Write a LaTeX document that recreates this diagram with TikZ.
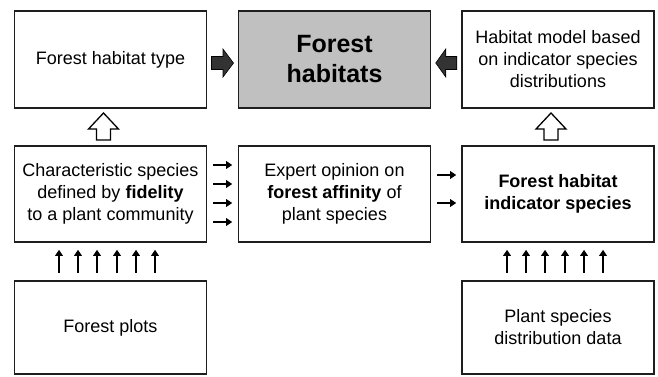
\documentclass[tikz,border=0pt]{standalone}
\usepackage{fontspec}
\setmainfont{Liberation Sans}
\usetikzlibrary{arrows.meta,calc}
\definecolor{boxline}{HTML}{1E1E1E}
\definecolor{mainfill}{HTML}{C0C0C0}
\definecolor{darkarr}{HTML}{333333}
\tikzset{
  box/.style={draw=boxline, line width=1.6pt, minimum width=192pt, align=center,
    font=\fontsize{18}{22}\selectfont, text=black, inner sep=0pt},
  mainbox/.style={box, fill=mainfill, font=\fontsize{25}{30}\selectfont\bfseries},
  smallarrow/.style={line width=1.5pt, -{Triangle[length=6pt,width=7.5pt]}, draw=black},
  darkarrow/.style={fill=darkarr, draw=black, line width=0.6pt},
  hollowarrow/.style={fill=white, draw=black, line width=1.3pt, line join=miter}
}
\begin{document}
\begin{tikzpicture}[x=1pt,y=-1pt]
\useasboundingbox (0,0) rectangle (658,376);
% row 1
\node[box, minimum height=97pt] (ftype) at (110.5,59.5) {Forest habitat type};
\node[mainbox, minimum height=97pt] (fhab) at (334.5,59.5) {Forest\\habitats};
\node[box, minimum height=97pt] (hmodel) at (558,59.5) {Habitat model based\\on indicator species\\distributions};
% row 2
\node[box, minimum height=96pt] (charsp) at (110.5,194) {Characteristic species\\defined by \textbf{fidelity}\\to a plant community};
\node[box, minimum height=96pt] (expert) at (334.5,194) {Expert opinion on\\\textbf{forest affinity} of\\plant species};
\node[box, minimum height=96pt, font=\fontsize{18}{22}\selectfont\bfseries] (indsp) at (558,194) {Forest habitat\\indicator species};
% row 3
\node[box, minimum height=93pt] (plots) at (110.5,327.5) {Forest plots};
\node[box, minimum height=93pt] (distr) at (558,327.5) {Plant species\\distribution data};

% dark block arrows
\coordinate (dl) at ($(ftype.east)!0.5!(fhab.west)+(0,3.5)$);
\draw[darkarrow, shift={(dl)}] (-11,-6.5) -- (0.5,-6.5) -- (0.5,-14) -- (11,0) -- (0.5,14) -- (0.5,6.5) -- (-11,6.5) -- cycle;
\coordinate (dr) at ($(fhab.east)!0.5!(hmodel.west)+(0,3.5)$);
\draw[darkarrow, shift={(dr)}] (10.5,-6.5) -- (-0.5,-6.5) -- (-0.5,-14) -- (-10.5,0) -- (-0.5,14) -- (-0.5,6.5) -- (10.5,6.5) -- cycle;

% hollow up arrows
\coordinate (hl) at ($(ftype.south)!0.5!(charsp.north)+(-7,0)$);
\draw[hollowarrow, shift={(hl)}] (-7,13) -- (-7,2) -- (-15,2) -- (0,-14) -- (15,2) -- (7,2) -- (7,13) -- cycle;
\coordinate (hr) at ($(hmodel.south)!0.5!(indsp.north)+(-7,0)$);
\draw[hollowarrow, shift={(hr)}] (-7,13) -- (-7,2) -- (-15,2) -- (0,-14) -- (15,2) -- (7,2) -- (7,13) -- cycle;

% small right arrows
\foreach \y in {165,184,203,222}
  \draw[smallarrow, shorten <=6pt, shorten >=5.5pt] (charsp.east |- 0,\y) -- (expert.west |- 0,\y);
\foreach \y in {175,203}
  \draw[smallarrow, shorten <=6pt, shorten >=5pt] (expert.east |- 0,\y) -- (indsp.west |- 0,\y);

% small up arrows
\foreach \x in {59,78,97,117,136,155}
  \draw[smallarrow, shorten <=7.5pt, shorten >=7pt] (plots.north -| \x,0) -- (charsp.south -| \x,0);
\foreach \x in {507,526,545,565,584,603}
  \draw[smallarrow, shorten <=7.5pt, shorten >=7pt] (distr.north -| \x,0) -- (indsp.south -| \x,0);
\end{tikzpicture}
\end{document}
